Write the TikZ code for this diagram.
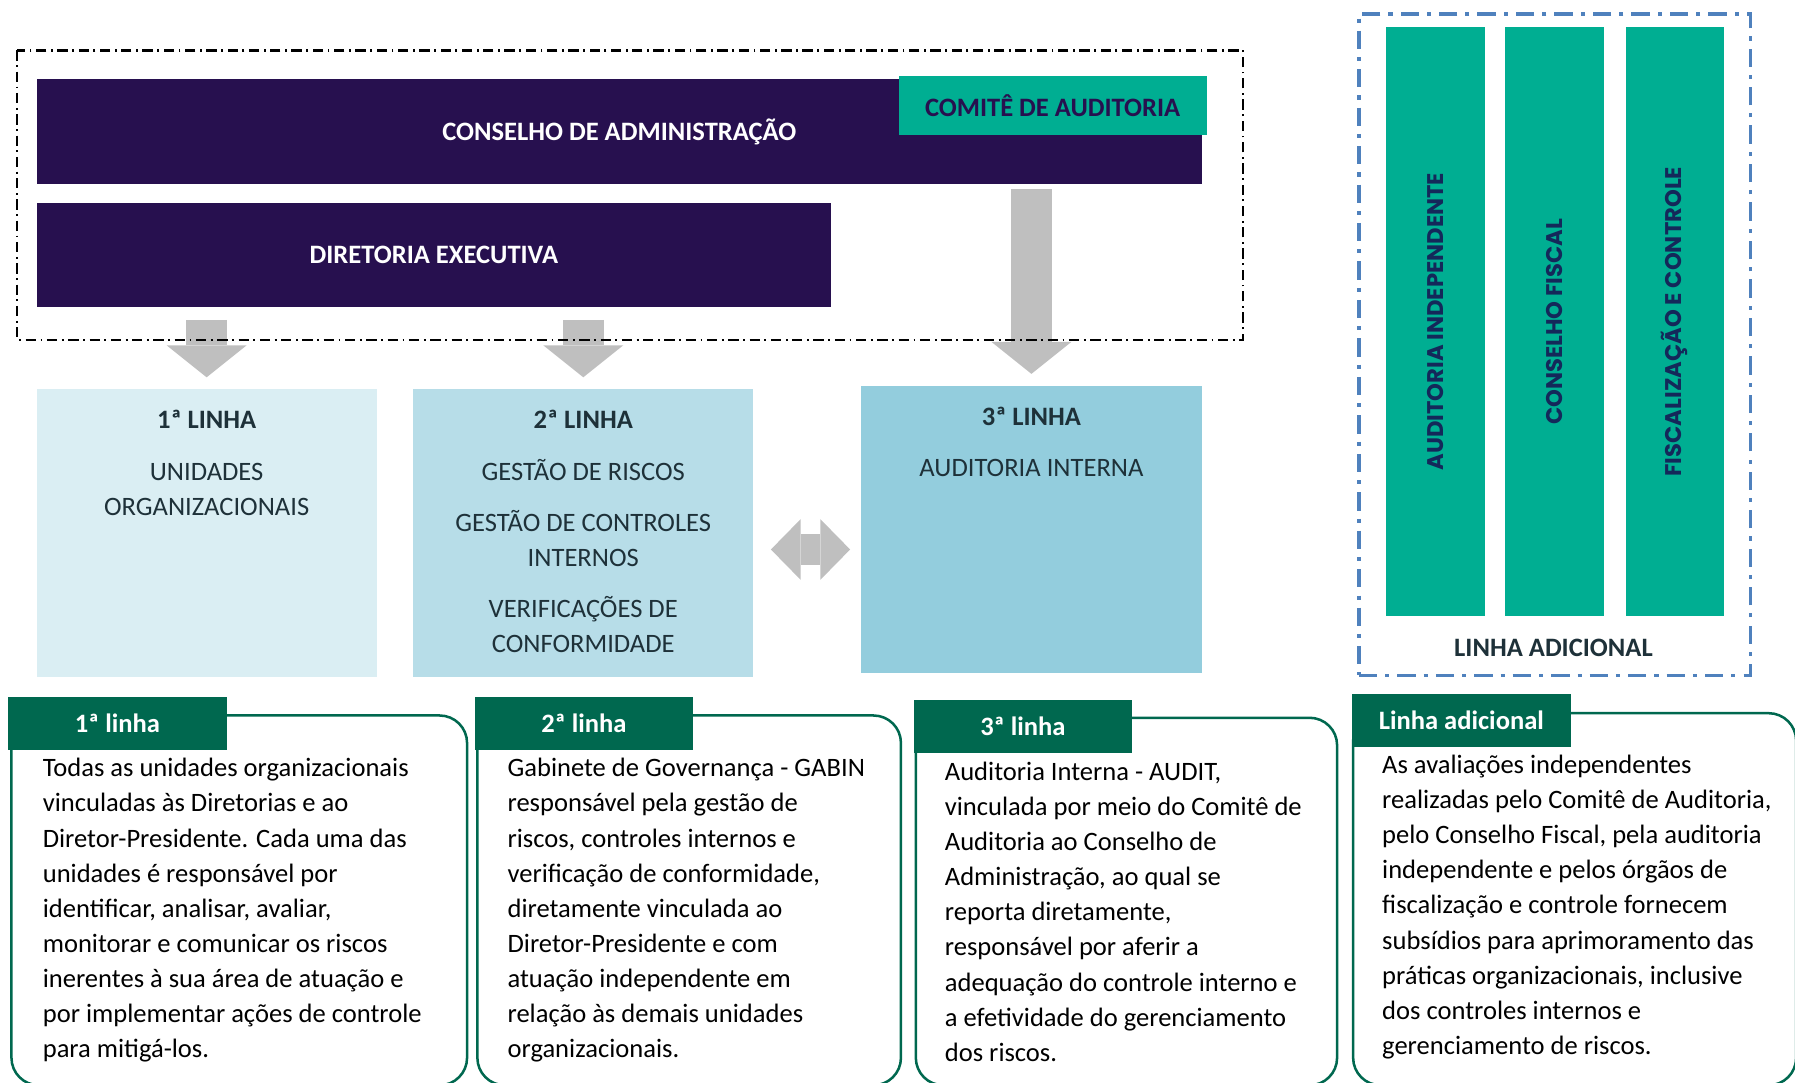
\documentclass[tikz,border=0pt]{standalone}
\usepackage{fontspec}
\setmainfont{Carlito}
\newfontfamily\colfont{Poppins}
\usetikzlibrary{arrows.meta,positioning}

\definecolor{conselho}{HTML}{27104F}
\definecolor{comite}{HTML}{00AE92}
\definecolor{tabgreen}{HTML}{00684F}
\definecolor{linhaA}{HTML}{DAEEF3}
\definecolor{linhaB}{HTML}{B7DDE8}
\definecolor{linhaC}{HTML}{93CDDD}
\definecolor{seta}{HTML}{BFBFBF}
\definecolor{adicblue}{HTML}{4F81BD}
\definecolor{colnavy}{HTML}{14285A}
\definecolor{linhatxt}{HTML}{1E3139}

\tikzset{
    topbox/.style={rectangle, inner sep=0pt, fill=conselho, text=white,
        font=\fontsize{11.6}{15.3}\selectfont\bfseries},
    linebox/.style={rectangle, inner sep=0pt, minimum width=148.5pt, minimum height=125.5pt},
    linetext/.style={anchor=north, align=center, inner sep=0pt, text=linhatxt,
        font=\fontsize{11.6}{15.25}\selectfont},
    colbox/.style={rectangle, inner sep=0pt, fill=comite, text=colnavy, rotate=90,
        minimum width=257pt, minimum height=43pt, font=\colfont\bfseries\fontsize{9.9}{11}\selectfont},
    cardbox/.style={rectangle, rounded corners=12pt, draw=tabgreen, line width=1.1pt,
        inner sep=0pt, minimum height=161.5pt},
    cardtab/.style={rectangle, inner sep=0pt, fill=tabgreen, text=white,
        minimum width=95.5pt, minimum height=23pt, font=\fontsize{11.6}{15.3}\selectfont\bfseries},
    cardtext/.style={anchor=north west, align=left, inner sep=0pt, text=black,
        font=\fontsize{11.6}{15.35}\selectfont},
    downarrow/.style={draw=seta, line width=18pt,
        -{Triangle[width=35pt,length=14pt,line width=0pt]}},
    bothways/.style={draw=seta, line width=13.5pt,
        {Triangle[width=26.5pt,length=13pt,line width=0pt]}-{Triangle[width=26.5pt,length=13pt,line width=0pt]}}
}

\begin{document}
\begin{tikzpicture}[x=0.5pt,y=-0.5pt]
    \useasboundingbox (0,0) rectangle (1568,946);

    % conselho, comite e diretoria
    \node[topbox, minimum width=509pt, minimum height=46pt] (ca) at (541,115) {CONSELHO DE ADMINISTRAÇÃO};
    \node[topbox, fill=comite, text=conselho, minimum width=134.5pt, minimum height=26pt] (ct) at (919.5,92) {COMITÊ DE AUDITORIA};
    \node[topbox, minimum width=347pt, minimum height=45.5pt] (de) at (379,222.5) {DIRETORIA EXECUTIVA};

    % as tres linhas
    \node[linebox, fill=linhaA] (l1) at (180.5,465.5) {};
    \node[linebox, fill=linhaB] (l2) at (509.5,465.5) {};
    \node[linebox, fill=linhaC, minimum width=149pt] (l3) at (901,462.5) {};

    \node[linetext, below=9.25pt of l1.north] (l1txt) {\textbf{1ª LINHA}\\[7.25pt]UNIDADES\\ORGANIZACIONAIS};
    \node[linetext, below=9.25pt of l2.north] (l2txt) {\textbf{2ª LINHA}\\[7.25pt]GESTÃO DE RISCOS\\[7pt]GESTÃO DE CONTROLES\\INTERNOS\\[7pt]VERIFICAÇÕES DE\\CONFORMIDADE};
    \node[linetext, below=9.25pt of l3.north] (l3txt) {\textbf{3ª LINHA}\\[7.25pt]AUDITORIA INTERNA};

    % setas
    \draw[downarrow, shorten <=5.5pt, shorten >=5pt] (de.south -| l1.north) -- (l1.north);
    \draw[downarrow, shorten <=5.5pt, shorten >=5pt] (de.south -| l2.north) -- (l2.north);
    \draw[downarrow, shorten <=2pt, shorten >=5pt] (ca.south -| l3.north) -- (l3.north);
    \draw[bothways] ([shift={(15,14.5)}]l2.east) -- ([shift={(-9,17.5)}]l3.west);

    % moldura da governanca
    \draw[line width=1pt, dash pattern=on 4.5pt off 2pt on 0.8pt off 2pt] (15,44) rectangle (1086,297);

    % linha adicional
    \node[rectangle, draw=adicblue, line width=1.6pt, dash pattern=on 8pt off 3.5pt on 1.8pt off 3.5pt,
        minimum width=171pt, minimum height=289pt] (adic) at (1358,301) {};
    \node[colbox] (c1) at (1254,281) {AUDITORIA INDEPENDENTE};
    \node[colbox] (c2) at (1358,281) {CONSELHO FISCAL};
    \node[colbox] (c3) at (1463,281) {FISCALIZAÇÃO E CONTROLE};
    \node[topbox, fill=none, text=linhatxt] (adictxt) at (1357,566) {LINHA ADICIONAL};

    % cartoes de descricao
    \node[cardbox, minimum width=199pt] (b1) at (209,786.5) {};
    \node[cardbox, minimum width=185pt] (b2) at (602,786.5) {};
    \node[cardbox, minimum width=184pt, minimum height=160.5pt] (b3) at (984,787.5) {};
    \node[cardbox, minimum width=193.5pt, minimum height=162.5pt] (b4) at (1375.5,785.5) {};

    \node[cardtab] (t1) at (102.5,632) {1ª linha};
    \node[cardtab] (t2) at (510,632) {2ª linha};
    \node[cardtab] (t3) at (893.5,634.5) {3ª linha};
    \node[cardtab] (t4) at (1276.5,629.5) {Linha adicional};

    \node[cardtext] (b1txt) at (37,662) {Todas as unidades organizacionais\\vinculadas às Diretorias e ao\\Diretor-Presidente. Cada uma das\\unidades é responsável por\\identificar, analisar, avaliar,\\monitorar e comunicar os riscos\\inerentes à sua área de atuação e\\por implementar ações de controle\\para mitigá-los.};
    \node[cardtext] (b2txt) at (443,662) {Gabinete de Governança - GABIN\\responsável pela gestão de\\riscos, controles internos e\\verificação de conformidade,\\diretamente vinculada ao\\Diretor-Presidente e com\\atuação independente em\\relação às demais unidades\\organizacionais.};
    \node[cardtext] (b3txt) at (825,665) {Auditoria Interna - AUDIT,\\vinculada por meio do Comitê de\\Auditoria ao Conselho de\\Administração, ao qual se\\reporta diretamente,\\responsável por aferir a\\adequação do controle interno e\\a efetividade do gerenciamento\\dos riscos.};
    \node[cardtext] (b4txt) at (1207,659) {As avaliações independentes\\realizadas pelo Comitê de Auditoria,\\pelo Conselho Fiscal, pela auditoria\\independente e pelos órgãos de\\fiscalização e controle fornecem\\subsídios para aprimoramento das\\práticas organizacionais, inclusive\\dos controles internos e\\gerenciamento de riscos.};
\end{tikzpicture}
\end{document}
